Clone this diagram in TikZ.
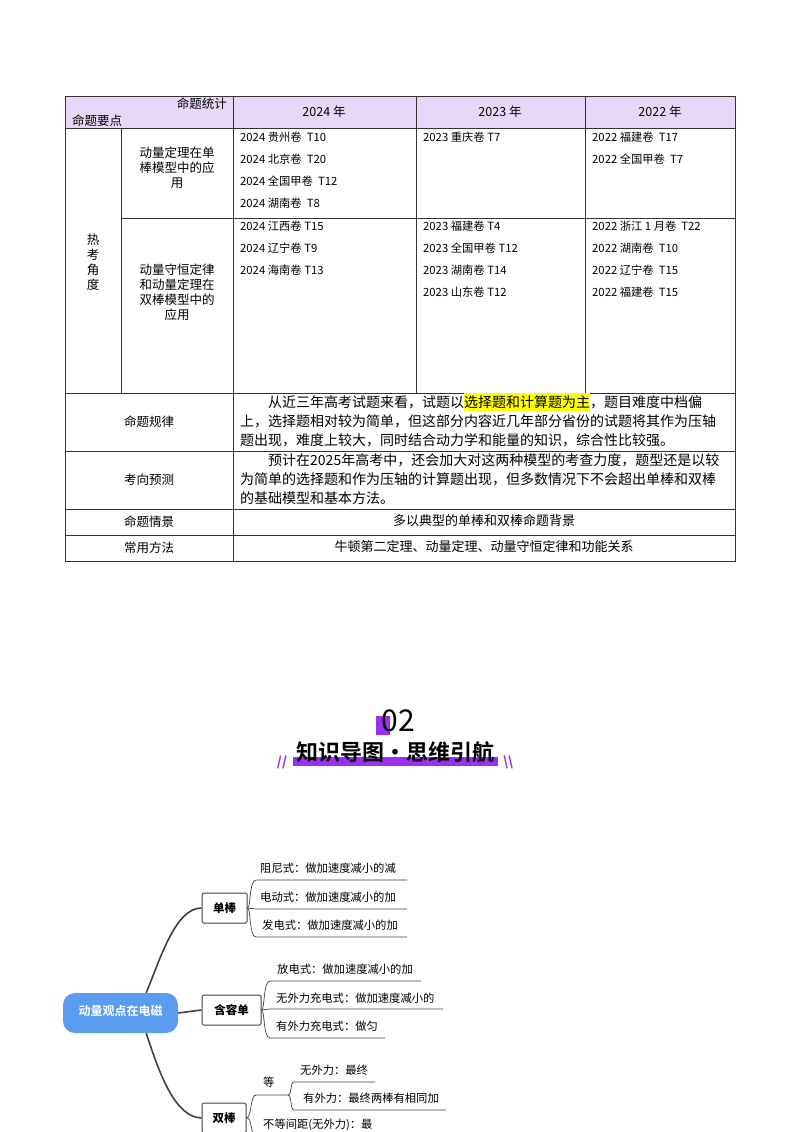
\documentclass[tikz,border=0pt]{standalone}
\usepackage{fontspec}
\setmainfont{Noto Sans CJK SC}
\newfontfamily\cjkb{Noto Sans CJK SC}[BoldFont={* Bold}]
\definecolor{hdr}{HTML}{E8D7F7}
\definecolor{purp}{HTML}{9B30F0}
\definecolor{blu}{HTML}{5B9BF0}
\definecolor{hl}{HTML}{FFFF00}
\tikzset{cell/.style={font=\fontsize{11.3}{12}\selectfont,anchor=west,inner sep=0pt},
 mid/.style={font=\fontsize{12.5}{15}\selectfont,align=center,inner sep=0pt},
 para/.style={font=\fontsize{14}{16}\selectfont,anchor=west,inner sep=0pt},
 grid/.style={draw=black!80,line width=0.6pt},
 box/.style={draw=black!75,line width=1pt,rounded corners=1.5pt,font=\bfseries\fontsize{11.5}{12}\selectfont,inner sep=0pt},
 leaf/.style={font=\fontsize{11.3}{12}\selectfont,anchor=south west,inner sep=1pt},
 br/.style={draw=black!75,line width=0.7pt},
 trunk/.style={draw=black!75,line width=1.6pt}}
\begin{document}
\begin{tikzpicture}[x=1pt,y=-1pt]
\useasboundingbox (0,0) rectangle (800,1132);
% table
\fill[hdr] (65,96) rectangle (735,128);
\draw[grid] (65,96) rectangle (735,561);
\draw[grid] (65,128)--(735,128) (121,218)--(735,218) (65,393)--(735,393) (65,451)--(735,451) (65,509)--(735,509) (65,535)--(735,535);
\draw[grid] (121,128)--(121,393) (233,96)--(233,561) (416,96)--(416,393) (585,96)--(585,393);
\node[mid,anchor=east] (h1) at (227,104) {命题统计};
\node[mid,anchor=west] (h2) at (72,121) {命题要点};
\node[mid] (y24) at (324,112) {2024 年};
\node[mid] (y23) at (500,112) {2023 年};
\node[mid] (y22) at (660,112) {2022 年};
\node[mid] (rk) at (93,262) {热\\考\\角\\度};
\node[mid] (r1) at (177,168) {动量定理在单\\棒模型中的应\\用};
\node[mid] (r2) at (177,292) {动量守恒定律\\和动量定理在\\双棒模型中的\\应用};
\foreach \t [count=\i] in {2024 贵州卷\ \ T10,2024 北京卷\ \ T20,2024 全国甲卷\ \ T12,2024 湖南卷\ \ T8}
  \node[cell] (a\i) at (240,115+22*\i) {\t};
\node[cell] (b1) at (423,137) {2023 重庆卷 T7};
\foreach \t [count=\i] in {2022 福建卷\ \ T17,2022 全国甲卷\ \ T7}
  \node[cell] (c\i) at (592,115+22*\i) {\t};
\foreach \t [count=\i] in {2024 江西卷 T15,2024 辽宁卷 T9,2024 海南卷 T13}
  \node[cell] (d\i) at (240,204+22*\i) {\t};
\foreach \t [count=\i] in {2023 福建卷 T4,2023 全国甲卷 T12,2023 湖南卷 T14,2023 山东卷 T12}
  \node[cell] (e\i) at (423,204+22*\i) {\t};
\foreach \t [count=\i] in {2022 浙江 1 月卷\ \ T22,2022 湖南卷\ \ T10,2022 辽宁卷\ \ T15,2022 福建卷\ \ T15}
  \node[cell] (f\i) at (592,204+22*\i) {\t};
\node[mid] (g1) at (149,422) {命题规律};
\node[mid] (g2) at (149,480) {考向预测};
\node[mid] (g3) at (149,522) {命题情景};
\node[mid] (g4) at (149,548) {常用方法};
\node[para] (p1) at (268,402) {从近三年高考试题来看，试题以\colorbox{hl}{\hspace{-3pt}选择题和计算题为主\hspace{-3pt}}，题目难度中档偏};
\node[para] (p2) at (240,421) {上，选择题相对较为简单，但这部分内容近几年部分省份的试题将其作为压轴};
\node[para] (p3) at (240,440) {题出现，难度上较大，同时结合动力学和能量的知识，综合性比较强。};
\node[para] (q1) at (268,460) {预计在2025年高考中，还会加大对这两种模型的考查力度，题型还是以较};
\node[para] (q2) at (240,479) {为简单的选择题和作为压轴的计算题出现，但多数情况下不会超出单棒和双棒};
\node[para] (q3) at (240,498) {的基础模型和基本方法。};
\node[mid,font=\fontsize{13}{14}\selectfont] (s1) at (484,521) {多以典型的单棒和双棒命题背景};
\node[mid,font=\fontsize{13}{14}\selectfont] (s2) at (484,547) {牛顿第二定理、动量定理、动量守恒定律和功能关系};
% heading
\fill[purp] (376,716) rectangle (390,735);
\node[inner sep=0pt,font=\fontsize{30}{30}\selectfont] (n02) at (398,721) {02};
\fill[purp] (293,757) rectangle (498,766);
\node[inner sep=0pt,font=\cjkb\bfseries\fontsize{22}{24}\selectfont] (ttl) at (395,752) {知识导图·思维引航};
\node[inner sep=0pt,text=purp,font=\bfseries\fontsize{13}{13}\selectfont] (sl1) at (282,762) {//};
\node[inner sep=0pt,text=purp,font=\bfseries\fontsize{13}{13}\selectfont] (sl2) at (508,762) {\textbackslash\textbackslash};
% mind map
\node[fill=blu,rounded corners=12pt,minimum width=115pt,minimum height=40pt,inner sep=0pt] (root) at (120.5,1013) {};
\node[text=white,font=\cjkb\bfseries\fontsize{12}{12}\selectfont,inner sep=0pt] (rt) at (120.5,1011) {动量观点在电磁};
\node[box,minimum width=45pt,minimum height=30pt] (dan) at (224.5,908) {单棒};
\node[box,minimum width=59pt,minimum height=30pt] (han) at (231.5,1010) {含容单};
\node[box,minimum width=44pt,minimum height=30pt] (shuang) at (224,1118) {双棒};
\draw[trunk] (root.north east)++(-32,0) .. controls (160,960) and (175,908) .. (dan.west);
\draw[trunk] (root.east) -- (han.west);
\draw[trunk] (root.south east)++(-32,0) .. controls (160,1075) and (175,1117) .. (shuang.west);
% dan leaves
\coordinate (u1) at (256,880); \coordinate (u2) at (256,909); \coordinate (u3) at (256,937);
\node[leaf] (l1) at (259,875) {阻尼式：做加速度减小的减};
\node[leaf] (l2) at (259,904) {电动式：做加速度减小的加};
\node[leaf] (l3) at (261,932) {发电式：做加速度减小的加};
\draw[br] (dan.east) .. controls (251,908) and (249,880) .. (u1) -- (407,880);
\draw[br] (dan.east) -- (u2) -- (407,909);
\draw[br] (dan.east) .. controls (251,908) and (249,937) .. (u3) -- (407,937);
% han leaves
\coordinate (v1) at (270,981); \coordinate (v2) at (270,1009); \coordinate (v3) at (270,1038);
\node[leaf] (m1) at (276,976) {放电式：做加速度减小的加};
\node[leaf] (m2) at (275,1005) {无外力充电式：做加速度减小的};
\node[leaf] (m3) at (275,1033) {有外力充电式：做匀};
\draw[br] (han.east) .. controls (265,1010) and (263,981) .. (v1) -- (421,981);
\draw[br] (han.east) -- (v2) -- (443,1009);
\draw[br] (han.east) .. controls (265,1010) and (263,1038) .. (v3) -- (385,1038);
% shuang leaves
\node[leaf] (k0) at (262,1089) {等};
\coordinate (w0) at (256,1095); \coordinate (w1) at (288,1095);
\coordinate (x1) at (294,1082); \coordinate (x2) at (294,1110);
\node[leaf] (k1) at (299,1077) {无外力：最终};
\node[leaf] (k2) at (302,1105) {有外力：最终两棒有相同加};
\node[leaf] (k3) at (262,1132) {不等间距(无外力)：最};
\draw[br] (shuang.east) .. controls (252,1117) and (250,1095) .. (w0) -- (w1);
\draw[br] (w1) .. controls (292,1095) and (290,1082) .. (x1) -- (375,1082);
\draw[br] (w1) .. controls (292,1095) and (290,1110) .. (x2) -- (446,1110);
\draw[br] (shuang.east) .. controls (252,1117) and (250,1132) .. (256,1140);
\end{tikzpicture}
\end{document}
